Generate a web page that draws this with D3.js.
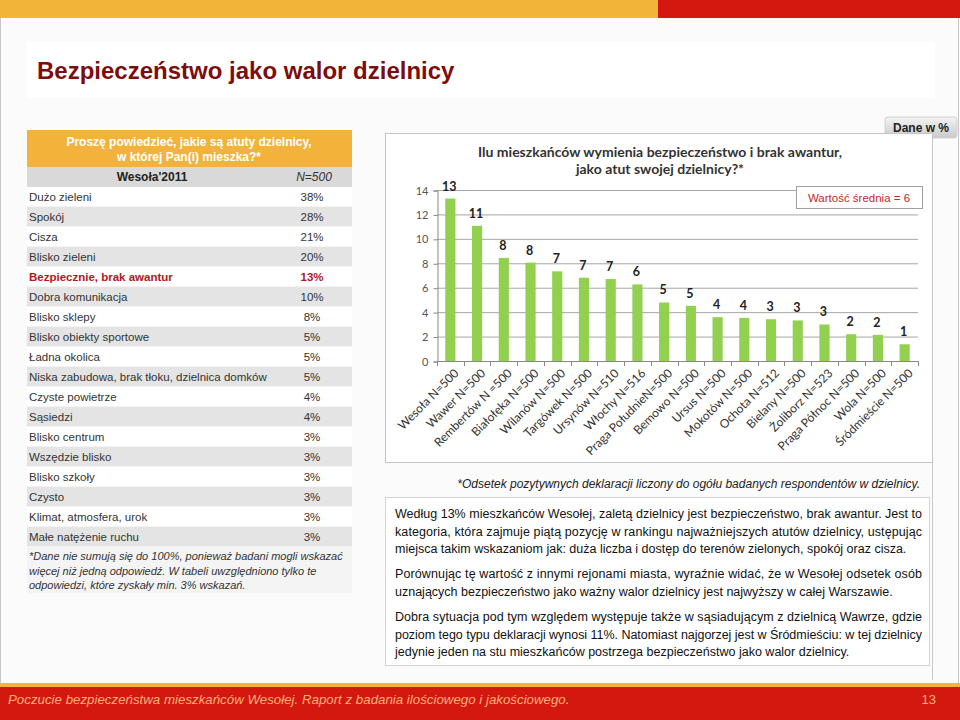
<!DOCTYPE html>
<html>
<head>
<meta charset="utf-8">
<script src="https://cdn.jsdelivr.net/npm/d3@7"></script>
<style>
  html, body { margin: 0; padding: 0; background: #ffffff; }
  svg { display: block; }
</style>
</head>
<body>
<script>
// ---------- DATA ----------
const tableCategories = [
  "Dużo zieleni", "Spokój", "Cisza", "Blisko zieleni", "Bezpiecznie, brak awantur",
  "Dobra komunikacja", "Blisko sklepy", "Blisko obiekty sportowe", "Ładna okolica",
  "Niska zabudowa, brak tłoku, dzielnica domków", "Czyste powietrze", "Sąsiedzi",
  "Blisko centrum", "Wszędzie blisko", "Blisko szkoły", "Czysto",
  "Klimat, atmosfera, urok", "Małe natężenie ruchu"
];
const tableValues = [38, 28, 21, 20, 13, 10, 8, 5, 5, 5, 4, 4, 3, 3, 3, 3, 3, 3];
const highlightCategory = "Bezpiecznie, brak awantur";

const districts = [
  "Wesoła N=500", "Wawer N=500", "Rembertów N =500", "Białołęka N=500", "Wilanów N=500",
  "Targówek N=500", "Ursynów N=510", "Włochy N=516", "Praga PołudnieN=500", "Bemowo N=500",
  "Ursus N=500", "Mokotów N=500", "Ochota N=512", "Bielany N=500", "Żoliborz N=523",
  "Praga Północ N=500", "Wola N=500", "Śródmieście N=500"
];
const districtValues = [13.3, 11.07, 8.44, 8.05, 7.34, 6.82, 6.71, 6.27, 4.79, 4.52,
                        3.59, 3.53, 3.42, 3.32, 2.99, 2.19, 2.14, 1.37];
const yTicks = [0, 2, 4, 6, 8, 10, 12, 14];
const averageLabel = "Wartość średnia = 6";

const paragraphs = [
  ["Według 13% mieszkańców Wesołej, zaletą dzielnicy jest bezpieczeństwo, brak awantur. Jest to",
   "kategoria, która zajmuje piątą pozycję w rankingu najważniejszych atutów dzielnicy, ustępując",
   "miejsca takim wskazaniom jak: duża liczba i dostęp do terenów zielonych, spokój oraz cisza."],
  ["Porównując tę wartość z innymi rejonami miasta, wyraźnie widać, że w Wesołej odsetek osób",
   "uznających bezpieczeństwo jako ważny walor dzielnicy jest najwyższy w całej Warszawie."],
  ["Dobra sytuacja pod tym względem występuje także w sąsiadującym z dzielnicą Wawrze, gdzie",
   "poziom tego typu deklaracji wynosi 11%. Natomiast najgorzej jest w Śródmieściu: w tej dzielnicy",
   "jedynie jeden na stu mieszkańców postrzega bezpieczeństwo jako walor dzielnicy."]
];

// ---------- DRAW ----------
const W = 960, H = 720;
const svg = d3.select("body").append("svg").attr("width", W).attr("height", H)
  .style("font-family", "'Liberation Sans', Arial, sans-serif");

svg.append("rect").attr("width", W).attr("height", H).attr("fill", "#fbfbfb");

// top bars
svg.append("rect").attr("x", 0).attr("y", 0).attr("width", 658).attr("height", 18).attr("fill", "#F2B53A");
svg.append("rect").attr("x", 658).attr("y", 0).attr("width", 302).attr("height", 18).attr("fill", "#D3180F");

// side border lines
svg.append("line").attr("x1", 0.5).attr("x2", 0.5).attr("y1", 18).attr("y2", 684).attr("stroke", "#c8c8c8");
svg.append("line").attr("x1", 958.5).attr("x2", 958.5).attr("y1", 18).attr("y2", 684).attr("stroke", "#c8c8c8");

// title box
svg.append("rect").attr("x", 27).attr("y", 42).attr("width", 908).attr("height", 56).attr("fill", "#ffffff");
svg.append("text").attr("x", 37).attr("y", 79)
  .attr("font-size", 24).attr("font-weight", "bold").attr("fill", "#7D0C0C")
  .text("Bezpieczeństwo jako walor dzielnicy");

// ---------- TABLE ----------
const tX = 27, tW = 325;
svg.append("rect").attr("x", tX).attr("y", 130).attr("width", tW).attr("height", 463).attr("fill", "#f4f4f4");
svg.append("rect").attr("x", tX).attr("y", 130).attr("width", tW).attr("height", 37).attr("fill", "#F3B33B");
svg.append("text").attr("x", 189).attr("y", 146).attr("text-anchor", "middle")
  .attr("font-size", 12).attr("font-weight", "bold").attr("fill", "#ffffff")
  .text("Proszę powiedzieć, jakie są atuty dzielnicy,");
svg.append("text").attr("x", 189).attr("y", 161).attr("text-anchor", "middle")
  .attr("font-size", 12).attr("font-weight", "bold").attr("fill", "#ffffff")
  .text("w której Pan(i) mieszka?*");
svg.append("rect").attr("x", tX).attr("y", 167).attr("width", tW).attr("height", 20).attr("fill", "#D9D9D9");
svg.append("text").attr("x", 152).attr("y", 181).attr("text-anchor", "middle")
  .attr("font-size", 12).attr("font-weight", "bold").attr("fill", "#222").text("Wesoła'2011");
svg.append("text").attr("x", 314).attr("y", 181).attr("text-anchor", "middle")
  .attr("font-size", 12).attr("font-style", "italic").attr("fill", "#333").text("N=500");

const rowY = d3.scaleBand().domain(tableCategories).range([187, 547]);
const rows = svg.append("g").selectAll("g").data(tableCategories).join("g")
  .attr("transform", d => `translate(0,${rowY(d)})`);
rows.append("rect").attr("x", tX).attr("y", 0).attr("width", tW).attr("height", rowY.bandwidth() - 1)
  .attr("fill", (d, i) => i % 2 === 0 ? "#ffffff" : "#E4E4E4");
rows.append("text").attr("x", 29).attr("y", 14)
  .attr("font-size", 11.5)
  .attr("font-weight", d => d === highlightCategory ? "bold" : "normal")
  .attr("fill", d => d === highlightCategory ? "#B5161C" : "#333")
  .text(d => d);
rows.append("text").attr("x", 312).attr("y", 14).attr("text-anchor", "middle")
  .attr("font-size", 11.5)
  .attr("font-weight", d => d === highlightCategory ? "bold" : "normal")
  .attr("fill", d => d === highlightCategory ? "#B5161C" : "#333")
  .text((d, i) => tableValues[i] + "%");

const fn = ["*Dane nie sumują się do 100%, ponieważ badani mogli wskazać",
            "więcej niż jedną odpowiedź. W tabeli uwzględniono tylko te",
            "odpowiedzi, które zyskały min. 3% wskazań."];
svg.append("g").selectAll("text").data(fn).join("text")
  .attr("x", 29).attr("y", (d, i) => 560 + i * 14.5)
  .attr("font-size", 11).attr("font-style", "italic").attr("fill", "#333").text(d => d);

// ---------- CHART ----------
// Dane w % tab
const tabGrad = svg.append("defs").append("linearGradient").attr("id", "tabg")
  .attr("x1", 0).attr("y1", 0).attr("x2", 0).attr("y2", 1);
tabGrad.append("stop").attr("offset", "0%").attr("stop-color", "#f4f4f4");
tabGrad.append("stop").attr("offset", "100%").attr("stop-color", "#c9c9c9");
svg.append("rect").attr("x", 885).attr("y", 117).attr("width", 72).attr("height", 21).attr("rx", 3)
  .attr("fill", "url(#tabg)").attr("stroke", "#d0d0d0");
svg.append("text").attr("x", 921).attr("y", 132).attr("text-anchor", "middle")
  .attr("font-size", 12).attr("font-weight", "bold").attr("fill", "#222").text("Dane w %");

svg.append("line").attr("x1", 932.5).attr("x2", 932.5).attr("y1", 138).attr("y2", 680).attr("stroke", "#c8c8c8");

svg.append("rect").attr("x", 385.5).attr("y", 133.5).attr("width", 547).attr("height", 329)
  .attr("fill", "#ffffff").attr("stroke", "#c4c4c4");

const chartFont = "Lato, 'Open Sans', sans-serif";
svg.append("text").attr("x", 660).attr("y", 157).attr("text-anchor", "middle")
  .attr("font-family", chartFont).attr("font-size", 14).attr("font-weight", "bold").attr("fill", "#333")
  .text("Ilu mieszkańców wymienia bezpieczeństwo i brak awantur,");
svg.append("text").attr("x", 660).attr("y", 174).attr("text-anchor", "middle")
  .attr("font-family", chartFont).attr("font-size", 14).attr("font-weight", "bold").attr("fill", "#333")
  .text("jako atut swojej dzielnicy?*");

const x = d3.scaleBand().domain(districts).range([437, 918]).paddingInner(0.62).paddingOuter(0.31);
const y = d3.scaleLinear().domain([0, 14]).range([361, 190]);

// gridlines
svg.append("g").selectAll("line").data(yTicks.filter(t => t > 0)).join("line")
  .attr("x1", 437).attr("x2", 918).attr("y1", d => y(d) + 0.5).attr("y2", d => y(d) + 0.5)
  .attr("stroke", "#a6a6a6").attr("stroke-width", 1);

// y axis
const yAxis = svg.append("g").attr("transform", "translate(437.5,0.5)")
  .call(d3.axisLeft(y).tickValues(yTicks).tickSize(4).tickPadding(5));
yAxis.select(".domain").attr("stroke", "#888");
yAxis.selectAll(".tick line").attr("stroke", "#888");
yAxis.selectAll("text").attr("font-family", chartFont).attr("font-size", 11).attr("fill", "#555");

// bars
svg.append("g").selectAll("rect").data(districts).join("rect")
  .attr("x", d => x(d)).attr("width", x.bandwidth())
  .attr("y", (d, i) => y(districtValues[i]))
  .attr("height", (d, i) => y(0) - y(districtValues[i]))
  .attr("fill", "#92D050");

// value labels
svg.append("g").selectAll("text").data(districts).join("text")
  .attr("x", d => x(d) + x.bandwidth() / 2 - 1)
  .attr("y", (d, i) => y(districtValues[i]) - 8)
  .attr("text-anchor", "middle")
  .attr("font-family", chartFont).attr("font-size", 12.5).attr("font-weight", "bold").attr("fill", "#222")
  .text((d, i) => Math.round(districtValues[i]));

// x axis
const boundaries = d3.range(districts.length + 1).map(i => 437 + i * (481 / districts.length));
svg.append("line").attr("x1", 437).attr("x2", 918).attr("y1", y(0) + 0.5).attr("y2", y(0) + 0.5).attr("stroke", "#888");
svg.append("g").selectAll("line").data(boundaries).join("line")
  .attr("x1", d => Math.round(d) + 0.5).attr("x2", d => Math.round(d) + 0.5)
  .attr("y1", y(0)).attr("y2", y(0) + 5).attr("stroke", "#888");
svg.append("g").selectAll("text").data(districts).join("text")
  .attr("transform", d => `translate(${x(d) + x.bandwidth() / 2 + 6},${y(0) + 10}) rotate(-45)`)
  .attr("text-anchor", "end").attr("dy", "0.35em")
  .attr("font-family", chartFont).attr("font-size", 12).attr("fill", "#333")
  .text(d => d);

// average legend box
svg.append("rect").attr("x", 796.5).attr("y", 186.5).attr("width", 126).attr("height", 22)
  .attr("fill", "#ffffff").attr("stroke", "#a0a0a0");
svg.append("text").attr("x", 859).attr("y", 202).attr("text-anchor", "middle")
  .attr("font-size", 11.5).attr("fill", "#C0282D").text(averageLabel);

// footnote
svg.append("text").attr("x", 920).attr("y", 488).attr("text-anchor", "end")
  .attr("font-size", 12).attr("font-style", "italic").attr("fill", "#222")
  .text("*Odsetek pozytywnych deklaracji liczony do ogółu badanych respondentów w dzielnicy.");

// text box
svg.append("rect").attr("x", 385.5).attr("y", 497.5).attr("width", 544).attr("height", 168)
  .attr("fill", "#ffffff").attr("stroke", "#d4d4d4");
const paraStart = [518, 578, 621];
const lineH = 17.5;
paragraphs.forEach((lines, pi) => {
  lines.forEach((ln, li) => {
    const t = svg.append("text").attr("x", 395).attr("y", paraStart[pi] + li * lineH)
      .attr("font-size", 12.5).attr("fill", "#111").text(ln);
    if (li < lines.length - 1) t.attr("textLength", 527).attr("lengthAdjust", "spacing");
  });
});

// footer
svg.append("rect").attr("x", 0).attr("y", 683).attr("width", W).attr("height", 5).attr("fill", "#F2B53A");
svg.append("rect").attr("x", 0).attr("y", 687).attr("width", W).attr("height", 33).attr("fill", "#D3180F");
svg.append("text").attr("x", 8).attr("y", 704).attr("font-size", 13.3).attr("font-style", "italic")
  .attr("fill", "#F7B27A").text("Poczucie bezpieczeństwa mieszkańców Wesołej. Raport z badania ilościowego i jakościowego.");
svg.append("text").attr("x", 936).attr("y", 704).attr("text-anchor", "end").attr("font-size", 13)
  .attr("fill", "#F7B27A").text("13");
</script>
</body>
</html>
